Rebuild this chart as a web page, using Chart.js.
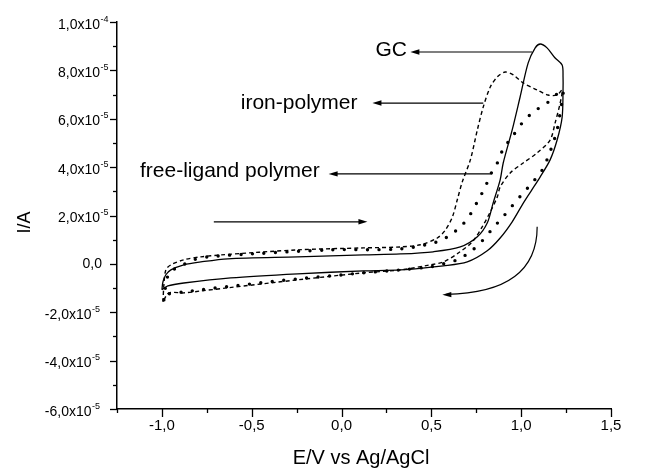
<!DOCTYPE html>
<html>
<head>
<meta charset="utf-8">
<script src="https://cdn.jsdelivr.net/npm/chart.js@4.4.0/dist/chart.umd.min.js"></script>
<style>
body{margin:0;background:#fff}
</style>
</head>
<body>
<canvas id="cv" width="651" height="468"></canvas>
<script>
// E in V vs Ag/AgCl, I in units of 1e-5 A
const gcE = [-1.0,-0.994,-0.978,-0.95,-0.878,-0.783,-0.633,-0.244,0.122,0.328,0.511,0.661,0.756,0.811,0.844,0.883,0.9,0.95,0.994,1.039,1.078,1.106,1.144,1.189,1.228,1.233,1.233,1.228,1.2,1.161,1.106,1.056,1.006,0.95,0.883,0.811,0.7,0.567,0.328,0.122,-0.244,-0.617,-0.878,-0.967,-1.0]
const gcI = [-1.07,-0.74,-0.45,-0.25,-0.04,0.08,0.21,0.29,0.37,0.41,0.50,0.70,1.12,1.69,2.52,3.47,4.17,5.54,6.90,8.31,8.93,9.09,8.93,8.51,8.22,7.73,7.19,6.07,5.12,4.30,3.60,3.02,2.44,1.74,1.07,0.54,0.08,-0.08,-0.25,-0.29,-0.41,-0.58,-0.79,-0.91,-1.07]

const ironE = [-0.994,-0.989,-0.978,-0.95,-0.878,-0.783,-0.672,-0.244,0.122,0.328,0.439,0.533,0.578,0.617,0.644,0.672,0.717,0.756,0.789,0.828,0.867,0.911,0.956,1.011,1.089,1.15,1.2,1.228,1.217,1.189,1.161,1.089,1.011,0.939,0.883,0.867,0.828,0.783,0.728,0.65,0.567,0.494,0.328,0.122,-0.244,-0.633,-0.783,-0.878,-0.961,-0.989,-0.994]
const ironI = [-1.57,-0.87,-0.25,-0.04,0.17,0.29,0.37,0.58,0.66,0.70,0.79,1.07,1.40,1.94,2.64,3.39,4.30,5.54,6.49,7.31,7.73,7.93,7.81,7.48,7.19,6.98,6.98,7.19,6.65,5.83,5.12,4.59,4.17,3.76,3.18,2.77,2.15,1.53,0.91,0.45,0.08,-0.04,-0.25,-0.37,-0.66,-0.99,-1.12,-1.20,-1.20,-1.49,-1.57]

const ligE = [-0.989,-0.978,-0.961,-0.939,-0.883,-0.822,-0.744,-0.506,-0.061,0.328,0.533,0.606,0.672,0.722,0.761,0.8,0.828,0.867,0.9,0.95,1.006,1.067,1.144,1.206,1.233,1.228,1.217,1.2,1.178,1.15,1.117,1.061,1.006,0.95,0.894,0.844,0.783,0.717,0.644,0.567,0.494,0.328,0.122,-0.061,-0.244,-0.506,-0.783,-0.878,-0.961,-0.989]
const ligI = [-1.49,-0.87,-0.37,-0.25,-0.04,0.17,0.29,0.41,0.58,0.62,0.91,1.20,1.61,2.11,2.64,3.18,3.68,4.17,4.75,5.25,5.83,6.28,6.65,7.07,7.19,6.78,6.24,5.54,5.00,4.42,3.88,3.35,2.89,2.40,1.90,1.49,0.95,0.50,0.17,0.0,-0.12,-0.25,-0.37,-0.50,-0.62,-0.83,-1.07,-1.16,-1.24,-1.49]

// ticks
const xTickValues = [-1.0,-0.5,0.0,0.5,1.0,1.5]
const xTickLabels = ['-1,0','-0,5','0,0','0,5','1,0','1,5']
const yTickValues = [-6,-4,-2,0,2,4,6,8,10]
const yTickLabels = ['-6,0x10','-4,0x10','-2,0x10','0,0','2,0x10','4,0x10','6,0x10','8,0x10','1,0x10']
const yTickExps = ['-5','-5','-5','','-5','-5','-5','-5','-4']

// annotations
const labelNames = ['GC','iron-polymer','free-ligand polymer']
const labelE = [0.189,-0.561,-1.122]
const labelI = [8.84,6.65,3.84]
const arrowFromE = [1.061,0.789,0.839]
const arrowToE = [0.383,0.172,-0.072]
const arrowI = [8.76,6.65,3.72]

const FONT = '"Liberation Sans", Arial, sans-serif'

const toPts = (xs, ys) => xs.map((x, i) => ({x: x, y: ys[i]}))

const drawHead = (ctx, x1, y1, x2, y2) => {
    let a = Math.atan2(y2 - y1, x2 - x1)
    ctx.beginPath()
    ctx.moveTo(x2, y2)
    ctx.lineTo(x2 - 9 * Math.cos(a) + 2.7 * Math.sin(a), y2 - 9 * Math.sin(a) - 2.7 * Math.cos(a))
    ctx.lineTo(x2 - 9 * Math.cos(a) - 2.7 * Math.sin(a), y2 - 9 * Math.sin(a) + 2.7 * Math.cos(a))
    ctx.closePath()
    ctx.fill()
}

const decorPlugin = {
    id: 'decor',
    afterDraw(chart) {
        let ctx = chart.ctx
        let xs = chart.scales.x
        let ys = chart.scales.y
        let area = chart.chartArea
        ctx.save()
        ctx.strokeStyle = '#000'
        ctx.fillStyle = '#000'
        ctx.lineWidth = 1.3

        // x ticks (major every 0.5, minor every 0.25)
        for (let v = -1.25; v <= 1.5001; v += 0.25) {
            let px = Math.round(xs.getPixelForValue(v)) + 0.5
            let major = Math.abs(v * 2 - Math.round(v * 2)) < 1e-6
            ctx.beginPath()
            ctx.moveTo(px, area.bottom)
            ctx.lineTo(px, area.bottom + (major ? 8 : 4))
            ctx.stroke()
        }
        // y ticks (major every 2, minor every 1)
        for (let v = -6; v <= 10; v += 1) {
            let py = Math.round(ys.getPixelForValue(v)) + 0.5
            let major = v % 2 === 0
            ctx.beginPath()
            ctx.moveTo(area.left, py)
            ctx.lineTo(area.left - (major ? 7 : 4), py)
            ctx.stroke()
        }

        // x tick labels
        ctx.font = '15px ' + FONT
        ctx.textAlign = 'center'
        ctx.textBaseline = 'alphabetic'
        xTickValues.forEach((v, i) => {
            ctx.fillText(xTickLabels[i], xs.getPixelForValue(v), area.bottom + 21)
        })

        // y tick labels with superscript exponent
        yTickValues.forEach((v, i) => {
            let py = ys.getPixelForValue(v)
            ctx.textAlign = 'left'
            if (!yTickExps[i]) {
                ctx.font = '14px ' + FONT
                ctx.textAlign = 'right'
                ctx.fillText(yTickLabels[i], area.left - 15, py + 4.5)
                return
            }
            ctx.font = '14px ' + FONT
            let bw = ctx.measureText(yTickLabels[i]).width
            ctx.font = '9px ' + FONT
            let ew = ctx.measureText(yTickExps[i]).width
            let baseRight = v > 0 ? area.left - 9 - ew : area.left - 17.5 - ew
            ctx.font = '14px ' + FONT
            ctx.fillText(yTickLabels[i], baseRight - bw, py + 6.5)
            ctx.font = '9px ' + FONT
            ctx.fillText(yTickExps[i], baseRight + 0.5, py - 0.5)
        })

        // axis titles
        ctx.font = '20px ' + FONT
        ctx.textAlign = 'center'
        ctx.fillText('E/V vs Ag/AgCl', (area.left + area.right) / 2 - 3, 464)
        ctx.save()
        ctx.translate(30, (area.top + area.bottom) / 2 + 7)
        ctx.rotate(-Math.PI / 2)
        ctx.font = '18px ' + FONT
        ctx.fillText('I/A', 0, 0)
        ctx.restore()

        // labels with arrows
        ctx.lineWidth = 1.2
        ctx.textAlign = 'left'
        ctx.textBaseline = 'middle'
        ctx.font = '21px ' + FONT
        labelNames.forEach((name, i) => {
            ctx.fillText(name, xs.getPixelForValue(labelE[i]), ys.getPixelForValue(labelI[i]))
            let x1 = xs.getPixelForValue(arrowFromE[i])
            let x2 = xs.getPixelForValue(arrowToE[i])
            let y = ys.getPixelForValue(arrowI[i])
            ctx.beginPath()
            ctx.moveTo(x1, y)
            ctx.lineTo(x2 + 6, y)
            ctx.stroke()
            drawHead(ctx, x1, y, x2, y)
        })

        // forward scan arrow
        let fx1 = xs.getPixelForValue(-0.711)
        let fx2 = xs.getPixelForValue(0.144)
        let fy = ys.getPixelForValue(1.74)
        ctx.beginPath()
        ctx.moveTo(fx1, fy)
        ctx.lineTo(fx2 - 6, fy)
        ctx.stroke()
        drawHead(ctx, fx1, fy, fx2, fy)

        // reverse scan curved arrow
        let p0 = [xs.getPixelForValue(1.089), ys.getPixelForValue(1.53)]
        let pc = [xs.getPixelForValue(1.089), ys.getPixelForValue(-1.2)]
        let p2 = [xs.getPixelForValue(0.561), ys.getPixelForValue(-1.28)]
        ctx.beginPath()
        ctx.moveTo(p0[0], p0[1])
        ctx.quadraticCurveTo(pc[0], pc[1], p2[0] + 4, p2[1] - 0.5)
        ctx.stroke()
        drawHead(ctx, pc[0], pc[1], p2[0], p2[1])

        ctx.restore()
    }
}

let cv = document.getElementById('cv').getContext('2d')

let cvChart = new Chart(cv, {
    type: 'scatter',
    data: {
        datasets: [
            {
                label: 'GC',
                data: toPts(gcE, gcI),
                showLine: true,
                borderColor: '#000',
                borderWidth: 1.3,
                pointRadius: 0,
                tension: 0.3
            },
            {
                label: 'iron-polymer',
                data: toPts(ironE, ironI),
                showLine: true,
                borderColor: '#000',
                borderWidth: 1.4,
                borderDash: [4, 3],
                pointRadius: 0,
                tension: 0.3
            },
            {
                label: 'free-ligand polymer',
                data: toPts(ligE, ligI),
                showLine: true,
                borderColor: '#000',
                borderWidth: 3.4,
                borderDash: [0, 11.5],
                borderCapStyle: 'round',
                pointRadius: 0,
                tension: 0.3
            }
        ]
    },
    options: {
        responsive: false,
        animation: false,
        layout: {
            padding: {top: 22, right: 40, left: 0, bottom: 0}
        },
        plugins: {
            legend: {display: false},
            tooltip: {enabled: false}
        },
        scales: {
            x: {
                type: 'linear',
                min: -1.25,
                max: 1.5,
                grid: {display: false},
                ticks: {display: false},
                border: {color: '#000', width: 1.5},
                afterFit: (s) => { s.height = 59 }
            },
            y: {
                type: 'linear',
                min: -6,
                max: 10,
                grid: {display: false},
                ticks: {display: false},
                border: {color: '#000', width: 1.5},
                afterFit: (s) => { s.width = 117 }
            }
        }
    },
    plugins: [decorPlugin]
})
</script>
</body>
</html>
